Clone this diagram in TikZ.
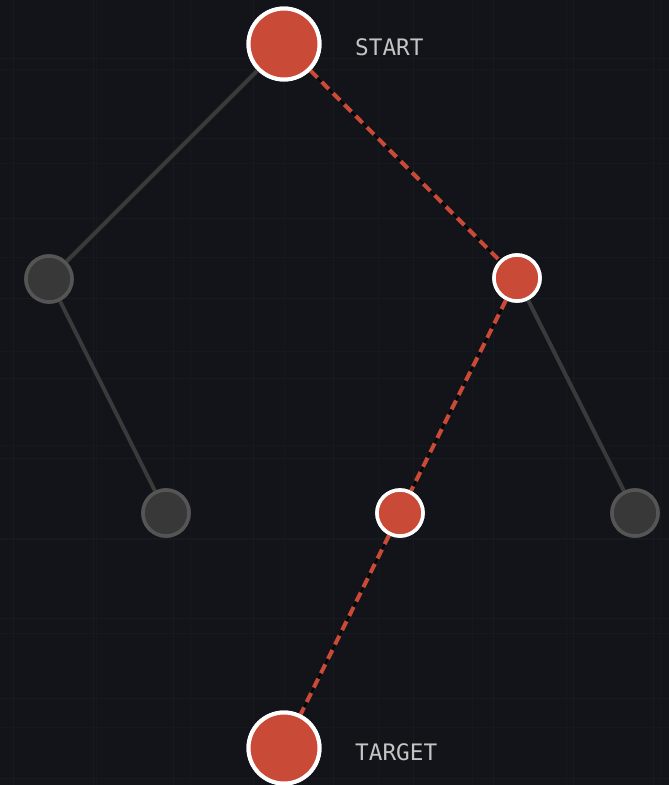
\documentclass[tikz,border=0pt]{standalone}
\usepackage{fontspec}
\newfontfamily\labelfont{DejaVu Sans Mono}
\definecolor{bg}{HTML}{131419}
\definecolor{gridA}{HTML}{191A20}
\definecolor{gridB}{HTML}{17181E}
\definecolor{redfill}{HTML}{C94A37}
\definecolor{grayfill}{HTML}{383838}
\definecolor{grayborder}{HTML}{555555}
\definecolor{grayedge}{HTML}{3A3A3A}
\definecolor{labelgray}{HTML}{C4C4C4}
\tikzset{
  bignode/.style={circle, fill=redfill, draw=white, line width=4pt, minimum size=71pt, inner sep=0pt},
  rednode/.style={circle, fill=redfill, draw=white, line width=3.5pt, minimum size=46pt, inner sep=0pt},
  graynode/.style={circle, fill=grayfill, draw=grayborder, line width=3.5pt, minimum size=46pt, inner sep=0pt},
  grayline/.style={draw=grayedge, line width=4pt},
  pathunder/.style={draw=black, line width=1.5pt},
  pathline/.style={draw=redfill, line width=4pt, dash pattern=on 10pt off 6pt},
  lbl/.style={text=labelgray, font=\labelfont\fontsize{22.7}{26}\selectfont, inner sep=0pt, anchor=base west}
}
\begin{document}
\begin{tikzpicture}[x=1pt,y=-1pt]
\fill[bg] (0,0) rectangle (669,785);
\useasboundingbox (0,0) rectangle (669,785);
% faint background grids
\foreach \gx in {13,93,...,669} {\draw[gridA, line width=1pt] (\gx,0) -- (\gx,785);}
\foreach \gy in {58,138,...,785} {\draw[gridA, line width=1pt] (0,\gy) -- (669,\gy);}
\foreach \gx in {96,190,...,669} {\draw[gridB, line width=1pt] (\gx,0) -- (\gx,785);}
\foreach \gy in {69,163,...,785} {\draw[gridB, line width=1pt] (0,\gy) -- (669,\gy);}
% nodes
\node[bignode] (start) at (284,44) {};
\node[graynode] (l1) at (49,279) {};
\node[rednode] (r1) at (517,278) {};
\node[graynode] (l2) at (166,513) {};
\node[rednode] (m2) at (400,513) {};
\node[graynode] (r2) at (635,513) {};
\node[bignode] (target) at (284,748) {};
% edges
\draw[grayline] (start) -- (l1);
\draw[grayline] (l1) -- (l2);
\draw[grayline] (r1) -- (r2);
\draw[pathunder] (start) -- (r1);
\draw[pathunder] (r1) -- (m2);
\draw[pathunder] (m2) -- (target);
\draw[pathline] (start) -- (r1);
\draw[pathline] (r1) -- (m2);
\draw[pathline] (m2) -- (target);
% redraw nodes on top of the edges
\node[bignode] at (start) {};
\node[graynode] at (l1) {};
\node[rednode] at (r1) {};
\node[graynode] at (l2) {};
\node[rednode] at (m2) {};
\node[graynode] at (r2) {};
\node[bignode] at (target) {};
% labels
\node[lbl] (startlbl) at (355,55) {START};
\node[lbl] (targetlbl) at (355,760) {TARGET};
\end{tikzpicture}
\end{document}
